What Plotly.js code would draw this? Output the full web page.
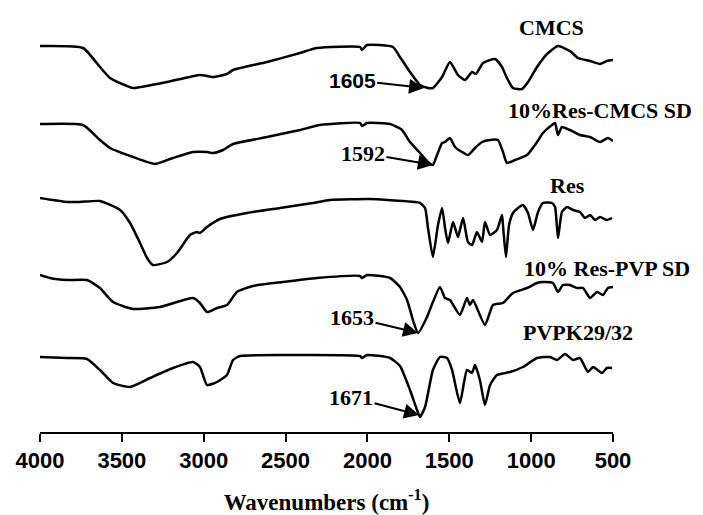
<!DOCTYPE html>
<html>
<head>
<meta charset="utf-8">
<script src="https://cdn.plot.ly/plotly-3.0.1.min.js"></script>
<style>html,body{margin:0;padding:0;background:#fff;}#chart{width:703px;height:515px;}</style>
</head>
<body>
<div id="chart"></div>
<script>
// Wavenumbers (cm-1) and stacked transmittance (a.u.)
const seriesNames = ["CMCS", "10%Res-CMCS SD", "Res", "10% Res-PVP SD", "PVPK29/32"];

const cmcsX = [4000,3737,3634,3572,3469,3432,3224,3023,2943,2858,2821,2613,2412,2308,2045,2033,2003,1844,1801,1740,1679,1630,1600,1544,1496,1447,1404,1361,1337,1294,1221,1178,1148,1111,1056,1019,964,903,836,763,714,640,579,537,500];
const cmcsY = [386,384,365,354,346,344,350,357,355,358,362,370,379,384,385,382,387,385,375,360,347,344,344,355,370,357,352,360,358,369,373,365,354,344,343,350,365,378,386,381,374,371,368,371,372];

const resCmcsX = [4000,3737,3634,3572,3432,3298,3188,3065,2980,2943,2882,2821,2613,2412,2290,2045,2033,2003,1862,1789,1740,1679,1630,1600,1575,1544,1526,1496,1465,1422,1386,1343,1300,1251,1203,1172,1148,1099,1025,964,928,873,854,836,812,763,702,640,579,531,500];
const resCmcsY = [308,307,292,284,275,268,274,280,280,279,282,288,295,302,307,309,306,309,308,302,290,279,270,267,277,289,290,294,285,280,277,284,290,292,292,280,269,272,277,290,299,307,309,297,305,302,297,295,290,294,291];

const resX = [4000,3835,3756,3634,3511,3450,3389,3346,3310,3224,3163,3084,3041,3023,2980,2901,2736,2534,2332,2229,1984,1880,1679,1648,1630,1600,1569,1544,1526,1508,1477,1447,1416,1386,1361,1331,1300,1282,1251,1209,1178,1172,1154,1135,1111,1080,1050,1019,989,958,928,873,854,836,812,781,744,702,671,640,610,579,537,506];
const resY = [234,230,230,231,222,209,189,174,167,170,179,197,200,199,205,213,219,224,229,232,233,232,229,224,204,175,207,224,204,189,210,195,214,190,187,200,190,210,197,202,217,207,175,207,219,224,227,219,202,220,229,229,225,194,220,225,222,220,214,217,212,215,212,214];

const resPvpX = [4000,3939,3835,3713,3634,3554,3432,3267,3065,3023,2980,2919,2858,2797,2699,2516,2308,2045,2033,2003,1862,1801,1758,1722,1691,1636,1600,1557,1526,1496,1435,1392,1374,1355,1282,1233,1172,1111,1025,964,928,867,836,806,763,720,683,640,598,561,531,500];
const resPvpY = [157,154,152,152,144,130,123,125,134,129,120,124,127,140,146,150,154,156,154,157,154,145,132,112,99,115,130,145,134,132,117,134,127,132,107,127,129,139,144,149,150,149,140,147,147,144,144,134,140,137,144,145];

const pvpX = [4000,3835,3713,3634,3554,3450,3328,3188,3065,3023,2980,2919,2858,2821,2778,2516,2045,2033,2003,1862,1801,1740,1697,1679,1648,1600,1557,1514,1483,1435,1392,1361,1343,1313,1282,1251,1209,1129,1050,964,885,842,793,744,702,653,622,567,537,506];
const pvpY = [75,74,73,62,49,45,54,64,70,65,47,50,57,72,76,77,76,74,77,74,66,42,22,15,25,62,75,74,62,29,62,59,67,52,27,47,57,60,65,74,75,72,78,72,74,60,65,59,64,64];

const xTicks = [4000,3500,3000,2500,2000,1500,1000,500];

const allX = [cmcsX, resCmcsX, resX, resPvpX, pvpX];
const allY = [cmcsY, resCmcsY, resY, resPvpY, pvpY];

const traces = allX.map((xs, i) => ({
  x: xs, y: allY[i], type: 'scatter', mode: 'lines', name: seriesNames[i],
  line: {color: '#000', width: 2.5, shape: 'spline', smoothing: 0.5},
  showlegend: false, hoverinfo: 'skip'
}));

const serifB = {family: 'Liberation Serif, Times New Roman, serif', size: 22, color: '#000', weight: 'bold'};
const sansB = {family: 'Liberation Sans, Arial, sans-serif', size: 21, color: '#000', weight: 'bold'};

function lbl(text, x, y) {
  return {text: '<b>' + text + '</b>', x: x, y: y, xref: 'x', yref: 'y', showarrow: false, font: serifB};
}
function peak(text, x, y, ax, ay, font) {
  return {text: '<b>' + text + '</b>', x: x, y: y, xref: 'x', yref: 'y', showarrow: true,
    ax: ax, ay: ay, arrowhead: 2, arrowsize: 1.5, arrowwidth: 2, arrowcolor: '#000', font: font};
}

const annotations = [
  lbl(seriesNames[0], 873, 405),
  lbl(seriesNames[1], 579, 322),
  lbl(seriesNames[2], 781, 247),
  lbl(seriesNames[3], 537, 164),
  lbl(seriesNames[4], 714, 100),
  peak('1605', 1654, 344, -72, -8, sansB),
  peak('1592', 1600, 267, -70, -12, serifB),
  peak('1653', 1691, 99, -66, -16, serifB),
  peak('1671', 1685, 17, -68, -18, serifB)
];

const layout = {
  width: 703, height: 515,
  margin: {l: 40, r: 90, t: 10, b: 83},
  paper_bgcolor: '#fff', plot_bgcolor: '#fff',
  xaxis: {
    range: [4000, 500], tickvals: xTicks, ticktext: xTicks.map(String),
    showgrid: false, zeroline: false, showline: true, linecolor: '#000', linewidth: 2,
    ticks: 'outside', ticklen: 8, tickwidth: 2, tickcolor: '#000',
    tickfont: {family: 'Liberation Sans, Arial, sans-serif', size: 22, color: '#000', weight: 'bold'},
    title: {text: '<b>Wavenumbers (cm<sup>-1</sup>)</b>', standoff: 26,
      font: {family: 'Liberation Serif, Times New Roman, serif', size: 23, color: '#000'}}
  },
  yaxis: {range: [0, 422], visible: false, showgrid: false, zeroline: false},
  annotations: annotations,
  showlegend: false
};

Plotly.newPlot('chart', traces, layout, {displayModeBar: false, staticPlot: true});
</script>
</body>
</html>
